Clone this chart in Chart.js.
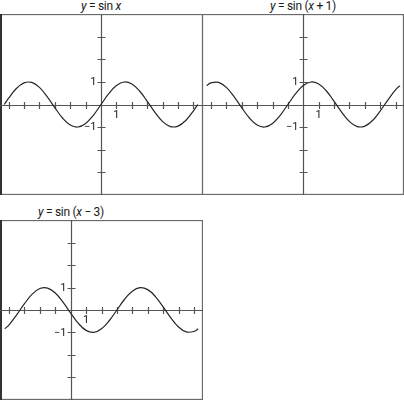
<!DOCTYPE html>
<html>
<head>
<meta charset="utf-8">
<script src="https://cdn.jsdelivr.net/npm/chart.js@4.4.1/dist/chart.umd.min.js"></script>
<style>
  html, body { margin: 0; padding: 0; background: #fff; }
  body { width: 404px; height: 400px; position: relative; overflow: hidden; }
  .panel { position: absolute; }
  .title { position: absolute; width: 120px; text-align: center; font: 12px "Liberation Sans Narrow", "Roboto", "Liberation Sans", sans-serif; color: #1a1a1a; line-height: 13px; white-space: nowrap; letter-spacing: -0.3px; }
  .title i { font-style: italic; }
</style>
</head>
<body>
<div class="title" id="t1" style="left:41px; top:0px;"><i>y</i> = sin <i>x</i></div>
<div class="title" id="t2" style="left:243px; top:0px;"><i>y</i> = sin (<i>x</i> + 1)</div>
<div class="title" id="t3" style="left:11px; top:206px;"><i>y</i> = sin (<i>x</i> − 3)</div>
<div class="panel" style="left:0px; top:14px; width:203px; height:181px;"><canvas id="c1"></canvas></div>
<div class="panel" style="left:202px; top:14px; width:202px; height:181px;"><canvas id="c2"></canvas></div>
<div class="panel" style="left:0px; top:220px; width:203px; height:180px;"><canvas id="c3"></canvas></div>
<script>
// ---- data ----
const xTop = [-6.28,-6,-5.5,-5,-4.5,-4,-3.5,-3,-2.5,-2,-1.5,-1,-0.5,0,0.5,1,1.5,2,2.5,3,3.5,4,4.5,5,5.5,6,6.28];
const ySinX = [0,0.28,0.71,0.96,0.98,0.76,0.35,-0.14,-0.60,-0.91,-1.00,-0.84,-0.48,0,0.48,0.84,1.00,0.91,0.60,0.14,-0.35,-0.76,-0.98,-0.96,-0.71,-0.28,0];
const ySinXPlus1 = [0.84,0.96,0.98,0.76,0.35,-0.14,-0.60,-0.91,-1.00,-0.84,-0.48,0,0.48,0.84,1.00,0.91,0.60,0.14,-0.35,-0.76,-0.98,-0.96,-0.71,-0.28,0.21,0.66,0.84];
const xBottom = [-4.28,-4,-3.5,-3,-2.5,-2,-1.5,-1,-0.5,0,0.5,1,1.5,2,2.5,3,3.5,4,4.5,5,5.5,6,6.5,7,7.5,8,8.28];
const ySinXMinus3 = [-0.84,-0.66,-0.21,0.28,0.71,0.96,0.98,0.76,0.35,-0.14,-0.60,-0.91,-1.00,-0.84,-0.48,0,0.48,0.84,1.00,0.91,0.60,0.14,-0.35,-0.76,-0.98,-0.96,-0.84];
const xTicksTop = [-6,-5,-4,-3,-2,-1,1,2,3,4,5,6];
const xTicksBottom = [-4,-3,-2,-1,1,2,3,4,5,6,7,8];
const yTicks = [-3,-2,-1,1,2,3];
const xTickLabels = [{v:1, t:'1'}];
const yTickLabels = [{v:1, t:'1'}, {v:-1, t:'\u22121'}];

const axesPlugin = {
  id: 'axesFrame',
  beforeDatasetsDraw(chart, args, opts) {
    const ctx = chart.ctx, a = chart.chartArea;
    const xs = chart.scales.x, ys = chart.scales.y;
    ctx.save();
    ctx.strokeStyle = '#6a6a6a';
    ctx.lineWidth = 1.3;
    ctx.strokeRect(a.left + 0.5, a.top + 0.5, a.right - a.left - 1, a.bottom - a.top - 1);
    if (opts.darkLeft) {
      ctx.strokeStyle = '#333';
      ctx.lineWidth = 2;
      ctx.beginPath(); ctx.moveTo(a.left + 1, a.top); ctx.lineTo(a.left + 1, a.bottom); ctx.stroke();
    }
    const x0 = Math.round(xs.getPixelForValue(0)) + 0.5;
    const y0 = Math.round(ys.getPixelForValue(0)) + 0.5;
    ctx.strokeStyle = '#555';
    ctx.lineWidth = 1.2;
    ctx.beginPath();
    ctx.moveTo(a.left, y0); ctx.lineTo(a.right, y0);
    ctx.moveTo(x0, a.top); ctx.lineTo(x0, a.bottom);
    opts.xTicks.forEach(v => {
      const px = Math.round(xs.getPixelForValue(v)) + 0.5;
      ctx.moveTo(px, y0 - 3.5); ctx.lineTo(px, y0 + 3.5);
    });
    yTicks.forEach(v => {
      const py = Math.round(ys.getPixelForValue(v)) + 0.5;
      ctx.moveTo(x0 - 4, py); ctx.lineTo(x0 + 4, py);
    });
    ctx.stroke();
    ctx.fillStyle = '#1a1a1a';
    ctx.font = '11px "Liberation Sans Narrow", "Roboto", "Liberation Sans", sans-serif';
    ctx.textBaseline = 'middle';
    ctx.textAlign = 'center';
    xTickLabels.forEach(l => ctx.fillText(l.t, xs.getPixelForValue(l.v), y0 + 9.5));
    ctx.textAlign = 'right';
    yTickLabels.forEach(l => ctx.fillText(l.t, x0 - 5, ys.getPixelForValue(l.v) + 0.5));
    ctx.restore();
  }
};

function makeChart(id, xs, ys, xmin, xmax, xTicks, darkLeft) {
  new Chart(document.getElementById(id), {
    type: 'line',
    data: {
      datasets: [{
        data: xs.map((x, i) => ({x: x, y: ys[i]})),
        borderColor: '#262626',
        borderWidth: 1.2,
        pointRadius: 0,
        fill: false,
        tension: 0.4
      }]
    },
    options: {
      responsive: true,
      maintainAspectRatio: false,
      animation: false,
      devicePixelRatio: 1,
      layout: { padding: 0 },
      events: [],
      scales: {
        x: { type: 'linear', display: false, min: xmin, max: xmax },
        y: { type: 'linear', display: false, min: -4.02, max: 4.02 }
      },
      plugins: {
        legend: { display: false },
        tooltip: { enabled: false },
        axesFrame: { xTicks: xTicks, darkLeft: darkLeft }
      }
    },
    plugins: [axesPlugin]
  });
}

makeChart('c1', xTop, ySinX, -6.56, 6.62, xTicksTop, true);
makeChart('c2', xTop, ySinXPlus1, -6.58, 6.54, xTicksTop, false);
makeChart('c3', xBottom, ySinXMinus3, -4.59, 8.59, xTicksBottom, true);
</script>
</body>
</html>
